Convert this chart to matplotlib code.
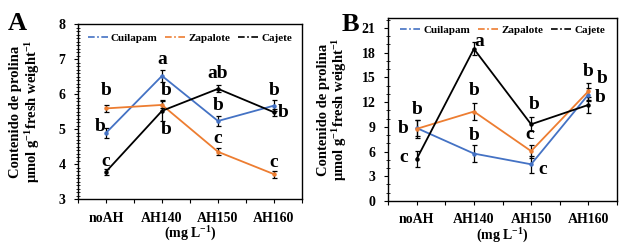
import matplotlib
matplotlib.use("Agg")
import matplotlib.pyplot as plt
from matplotlib.lines import Line2D
from matplotlib.ticker import MultipleLocator, FixedLocator

plt.rcParams['font.family'] = ['Liberation Serif', 'DejaVu Serif']
plt.rcParams['font.weight'] = 'bold'
plt.rcParams['mathtext.default'] = 'regular'

categories = ["noAH", "AH140", "AH150", "AH160"]
series_names = ["Cuilapam", "Zapalote", "Cajete"]
colors = ["#4472C4", "#ED7D31", "#000000"]

# Panel A
a_cuilapam = [4.89, 6.52, 5.23, 5.67]
a_zapalote = [5.59, 5.69, 4.35, 3.71]
a_cajete = [3.78, 5.52, 6.15, 5.48]
a_err_cuilapam = [0.15, 0.18, 0.15, 0.15]
a_err_zapalote = [0.10, 0.10, 0.10, 0.10]
a_err_cajete = [0.08, 0.30, 0.10, 0.10]
a_letters = ["b", "b", "c", "a", "b", "b", "ab", "b", "c", "b", "b", "c"]
a_letter_x = [0.0, -0.11, 0.0, 1.0, 1.07, 1.07, 2.0, 2.0, 2.0, 3.0, 3.17, 3.0]
a_letter_y = [6.1, 5.08, 4.08, 6.98, 6.1, 4.98, 6.58, 5.67, 4.74, 6.1, 5.46, 4.05]

# Panel B
b_cuilapam = [8.85, 5.75, 4.45, 12.9]
b_zapalote = [8.75, 10.85, 6.05, 13.3]
b_cajete = [5.1, 18.45, 9.3, 11.65]
b_err_cuilapam = [1.0, 1.0, 1.0, 0.8]
b_err_zapalote = [1.1, 1.0, 0.8, 1.0]
b_err_cajete = [0.95, 0.8, 0.85, 1.0]
b_letters = ["b", "b", "c", "a", "b", "b", "b", "c", "c", "b", "b", "b"]
b_letter_x = [0.0, -0.23, -0.23, 1.1, 1.0, 1.0, 2.05, 1.98, 2.2, 3.0, 3.24, 3.2]
b_letter_y = [11.1, 8.8, 5.3, 19.4, 13.4, 7.9, 11.7, 8.1, 3.85, 15.7, 14.8, 12.5]

fig = plt.figure(figsize=(6.2, 2.46), dpi=100)
axA = fig.add_axes([0.1258, 0.191, 0.3613, 0.711])
axB = fig.add_axes([0.626, 0.183, 0.369, 0.744])

ylabel = "Contenido de prolina\nμmol g$^{-1}$fresh weight$^{-1}$"

def draw(ax, data, errs, letters, lx, ly, ylim, major, minor, panel, px, py, ylpad, legpad):
    x = list(range(len(categories)))
    for vals, err, c in zip(data, errs, colors):
        ax.errorbar(x, vals, yerr=err, color=c, lw=1.3, marker='o', ms=2.2,
                    ecolor='black', elinewidth=0.9, capsize=1.8, capthick=0.9, zorder=3)
    for t, xx, yy in zip(letters, lx, ly):
        ax.text(xx, yy, t, ha='center', va='center', fontsize=14, fontweight='bold', zorder=4)
    ax.set_xlim(-0.5, 3.5)
    ax.set_ylim(*ylim)
    ax.yaxis.set_major_locator(MultipleLocator(major))
    ax.yaxis.set_minor_locator(MultipleLocator(minor))
    ax.set_xticks(x)
    ax.set_xticklabels(categories, fontsize=10, fontweight='bold')
    ax.xaxis.set_minor_locator(FixedLocator([-0.5, 0.5, 1.5, 2.5, 3.5]))
    ax.tick_params(axis='x', which='both', direction='out', length=3, width=0.8, pad=6)
    ax.tick_params(axis='y', which='major', direction='out', length=3, width=0.8, labelsize=10, pad=6)
    ax.tick_params(axis='y', which='minor', direction='inout', length=2.5, width=0.6)
    for lab in ax.get_yticklabels():
        lab.set_fontweight('bold')
    for s in ax.spines.values():
        s.set_linewidth(1.0)
    ax.set_xlabel("(mg L$^{-1}$)", fontsize=10, fontweight='bold', labelpad=0)
    ax.set_ylabel(ylabel, fontsize=10.5, fontweight='bold', labelpad=ylpad, linespacing=1.05)
    handles = [Line2D([0], [0], color=c, lw=1.2, linestyle=(0, (4, 1.5, 1, 1.5))) for c in colors]
    ax.legend(handles, series_names, loc='upper center', ncol=3, frameon=False,
              handlelength=1.9, handletextpad=0.2, columnspacing=0.7,
              borderaxespad=legpad, borderpad=0.3, prop={'weight': 'bold', 'size': 8.0})
    ax.text(px, py, panel, transform=ax.transAxes, fontsize=19, fontweight='bold',
            ha='left', va='top')

draw(axA, [a_cuilapam, a_zapalote, a_cajete], [a_err_cuilapam, a_err_zapalote, a_err_cajete],
     a_letters, a_letter_x, a_letter_y, (3, 8), 1, 0.1, "A", -0.315, 1.07, 12, 0.55)
draw(axB, [b_cuilapam, b_zapalote, b_cajete], [b_err_cuilapam, b_err_zapalote, b_err_cajete],
     b_letters, b_letter_x, b_letter_y, (0, 22.2), 3, 1, "B", -0.205, 1.025, 9, 0.35)

fig.savefig("out.png", dpi=100)
